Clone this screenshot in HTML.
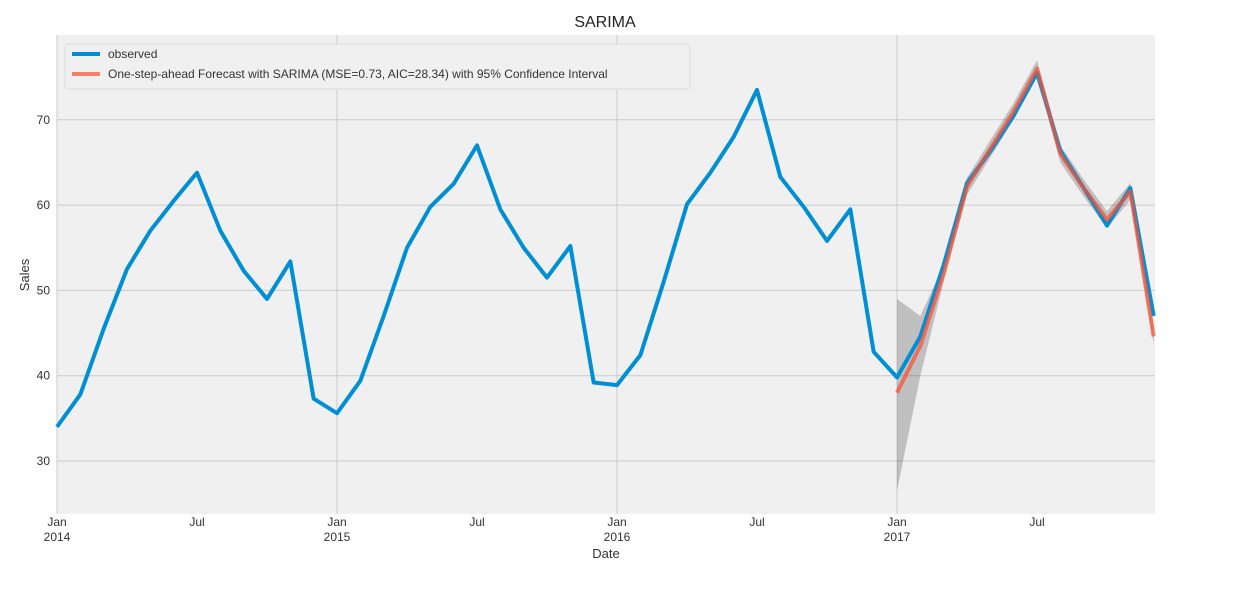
<!DOCTYPE html>
<html><head><meta charset="utf-8"><style>
body{margin:0;background:#fff;width:1241px;height:611px;overflow:hidden;font-family:"Liberation Sans",sans-serif}
</style></head><body>
<svg id="chart" width="1241" height="611" font-family="Liberation Sans, sans-serif">
<rect x="57" y="35" width="1098" height="479" fill="#f0f0f0"/>
<g id="grid"></g>
<g id="series"></g>
<g id="ticks"></g>
<text x="605" y="27" font-size="16" text-anchor="middle" fill="#222">SARIMA</text>
<text x="606" y="558" font-size="13" text-anchor="middle" fill="#333">Date</text>
<text x="29" y="275" font-size="13" text-anchor="middle" fill="#333" transform="rotate(-90 29 275)">Sales</text>
<g>
<rect x="65" y="44" width="625" height="45" rx="3" fill="#f0f0f0" stroke="#ddd"/>
<line x1="72" y1="54" x2="100" y2="54" stroke="#008fd5" stroke-width="4"/>
<text x="108" y="58" font-size="12" fill="#333">observed</text>
<line x1="72" y1="74" x2="100" y2="74" stroke="#fc4f30" stroke-opacity="0.7" stroke-width="4"/>
<text x="108" y="78" font-size="12" fill="#333">One-step-ahead Forecast with SARIMA (MSE=0.73, AIC=28.34) with 95% Confidence Interval</text>
</g>
</svg>
<script>
const observed=[34,37.8,45.5,52.5,57,60.5,63.8,57,52.3,49,53.4,37.3,
35.6,39.4,47,55,59.8,62.5,67,59.5,55,51.5,55.2,39.2,
38.9,42.4,51,60.1,63.8,68,73.5,63.3,59.8,55.8,59.5,42.8,
39.8,44.6,53,62.6,66.3,70.5,75.5,66.4,62,57.6,62,47];
const forecast=[38,43.5,52,62.2,66.6,71,76,66,62,58.3,61.6,44.6];
const ciLower=[26.5,40,51,61.2,65.6,70,75,65,61,57.3,60.6,43.6];
const ciUpper=[49,47,53,63.2,67.6,72,77,67,63,59.3,62.6,45.6];
const forecastStart=36;
const yTicks=[30,40,50,60,70];
const xTickMonths=[0,6,12,18,24,30,36,42];
const xTickLabels=[["Jan","2014"],["Jul",""],["Jan","2015"],["Jul",""],["Jan","2016"],["Jul",""],["Jan","2017"],["Jul",""]];
const NS="http://www.w3.org/2000/svg";
const X=i=>57+i*280/12;
const Y=v=>461-(v-30)*8.53;
function mk(t,a,p){const e=document.createElementNS(NS,t);for(const k in a)e.setAttribute(k,a[k]);p.appendChild(e);return e;}
const grid=document.getElementById('grid'),ser=document.getElementById('series'),tk=document.getElementById('ticks');
yTicks.forEach(v=>{
 const l=mk('line',{x1:57,x2:1155,y1:Y(v),y2:Y(v),stroke:'#cbcbcb','stroke-width':1},grid);
 
 
 const t=mk('text',{x:50,y:Y(v)+4,'font-size':12,'text-anchor':'end',fill:'#333'},tk);
 t.textContent=v;
 
 
});
xTickMonths.forEach((m,i)=>{
 if(m%12===0){const l=mk('line',{x1:X(m),x2:X(m),y1:35,y2:514,stroke:'#cbcbcb','stroke-width':1},grid);
 
 }
 const t=mk('text',{x:X(m),y:526,'font-size':12,'text-anchor':'middle',fill:'#333'},tk);
 t.textContent=xTickLabels[i][0];
 
 
 if(xTickLabels[i][1]){const t2=mk('text',{x:X(m),y:541,'font-size':12,'text-anchor':'middle',fill:'#333'},tk);
 t2.textContent=xTickLabels[i][1];
 
 }
});
let pts=ciUpper.map((v,i)=>X(forecastStart+i)+','+Y(v));
pts=pts.concat(ciLower.map((v,i)=>X(forecastStart+i)+','+Y(v)).reverse());
const ci=mk('polygon',{points:pts.join(' '),fill:'#000','fill-opacity':0.2},ser);


const ob=mk('polyline',{points:observed.map((v,i)=>X(i)+','+Y(v)).join(' '),fill:'none',stroke:'#008fd5','stroke-width':4,'stroke-linejoin':'round'},ser);


const fc=mk('polyline',{points:forecast.map((v,i)=>X(forecastStart+i)+','+Y(v)).join(' '),fill:'none',stroke:'#fc4f30','stroke-opacity':0.7,'stroke-width':4,'stroke-linejoin':'round'},ser);


</script>
</body></html>
